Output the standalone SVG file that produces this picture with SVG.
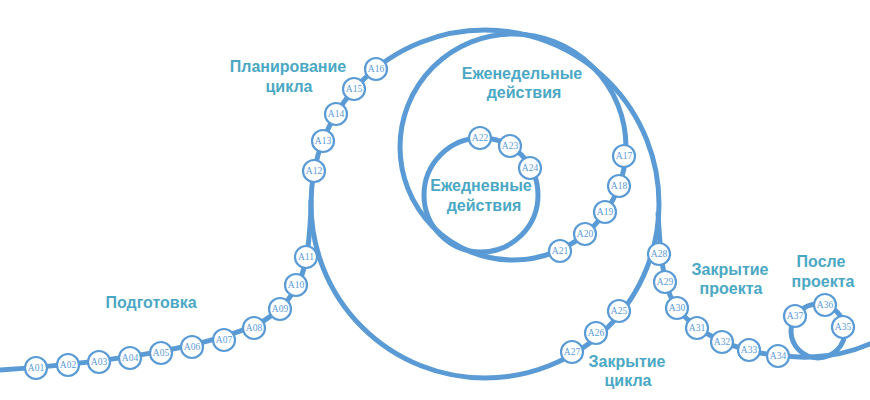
<svg xmlns="http://www.w3.org/2000/svg" width="870" height="400" viewBox="0 0 870 400">
<style>
.ln{fill:none;stroke:#5B9BD5;stroke-width:5}
.node circle{fill:#fff;stroke:#5B9BD5;stroke-width:2.2}
.node text{font-family:"Liberation Serif",serif;font-size:9.5px;fill:#5B9BD5;text-anchor:middle}
.lbl{font-family:"Liberation Sans",Arial,sans-serif;font-size:16px;font-weight:bold;fill:#4BA8C4;text-anchor:middle}
</style>
<rect width="870" height="400" fill="#fff"/>
<g id="connectors">
<circle class="ln" cx="485" cy="204" r="174"/>
<circle class="ln" cx="513" cy="147" r="113"/>
<circle class="ln" cx="481" cy="195" r="57"/>
<circle class="ln" cx="818" cy="331" r="27"/>
<path class="ln" d="M0,370 C120,362 220,345 265,320 C290,305 303,280 307,255 C309,240 311,222 311,200"/>
<path class="ln" d="M658,212 C660,250 662,270 668,290 C680,325 720,345 760,353 C790,358 830,362 872,343"/>
</g>
<g id="A01" class="node" transform="translate(36,368)"><circle r="11"/><text y="3.3">A01</text></g>
<g id="A02" class="node" transform="translate(68,365)"><circle r="11"/><text y="3.3">A02</text></g>
<g id="A03" class="node" transform="translate(99,362)"><circle r="11"/><text y="3.3">A03</text></g>
<g id="A04" class="node" transform="translate(130,358)"><circle r="11"/><text y="3.3">A04</text></g>
<g id="A05" class="node" transform="translate(161,353)"><circle r="11"/><text y="3.3">A05</text></g>
<g id="A06" class="node" transform="translate(192,347)"><circle r="11"/><text y="3.3">A06</text></g>
<g id="A07" class="node" transform="translate(224,340)"><circle r="11"/><text y="3.3">A07</text></g>
<g id="A08" class="node" transform="translate(254,328)"><circle r="11"/><text y="3.3">A08</text></g>
<g id="A09" class="node" transform="translate(280,309)"><circle r="11"/><text y="3.3">A09</text></g>
<g id="A10" class="node" transform="translate(296,285)"><circle r="11"/><text y="3.3">A10</text></g>
<g id="A11" class="node" transform="translate(306,257)"><circle r="11"/><text y="3.3">A11</text></g>
<g id="A12" class="node" transform="translate(314,171)"><circle r="11"/><text y="3.3">A12</text></g>
<g id="A13" class="node" transform="translate(323,141)"><circle r="11"/><text y="3.3">A13</text></g>
<g id="A14" class="node" transform="translate(336,114)"><circle r="11"/><text y="3.3">A14</text></g>
<g id="A15" class="node" transform="translate(354,89)"><circle r="11"/><text y="3.3">A15</text></g>
<g id="A16" class="node" transform="translate(376,69)"><circle r="11"/><text y="3.3">A16</text></g>
<g id="A17" class="node" transform="translate(624,156)"><circle r="11"/><text y="3.3">A17</text></g>
<g id="A18" class="node" transform="translate(619,186)"><circle r="11"/><text y="3.3">A18</text></g>
<g id="A19" class="node" transform="translate(605,212)"><circle r="11"/><text y="3.3">A19</text></g>
<g id="A20" class="node" transform="translate(585,234)"><circle r="11"/><text y="3.3">A20</text></g>
<g id="A21" class="node" transform="translate(560,251)"><circle r="11"/><text y="3.3">A21</text></g>
<g id="A22" class="node" transform="translate(480,138)"><circle r="11"/><text y="3.3">A22</text></g>
<g id="A23" class="node" transform="translate(510,146)"><circle r="11"/><text y="3.3">A23</text></g>
<g id="A24" class="node" transform="translate(530,168)"><circle r="11"/><text y="3.3">A24</text></g>
<g id="A25" class="node" transform="translate(619,311)"><circle r="11"/><text y="3.3">A25</text></g>
<g id="A26" class="node" transform="translate(596,333)"><circle r="11"/><text y="3.3">A26</text></g>
<g id="A27" class="node" transform="translate(572,352)"><circle r="11"/><text y="3.3">A27</text></g>
<g id="A28" class="node" transform="translate(659,254)"><circle r="11"/><text y="3.3">A28</text></g>
<g id="A29" class="node" transform="translate(665,282)"><circle r="11"/><text y="3.3">A29</text></g>
<g id="A30" class="node" transform="translate(677,308)"><circle r="11"/><text y="3.3">A30</text></g>
<g id="A31" class="node" transform="translate(697,328)"><circle r="11"/><text y="3.3">A31</text></g>
<g id="A32" class="node" transform="translate(722,342)"><circle r="11"/><text y="3.3">A32</text></g>
<g id="A33" class="node" transform="translate(749,350)"><circle r="11"/><text y="3.3">A33</text></g>
<g id="A34" class="node" transform="translate(778,356)"><circle r="11"/><text y="3.3">A34</text></g>
<g id="A35" class="node" transform="translate(843,327)"><circle r="11"/><text y="3.3">A35</text></g>
<g id="A36" class="node" transform="translate(825,305)"><circle r="11"/><text y="3.3">A36</text></g>
<g id="A37" class="node" transform="translate(795,316)"><circle r="11"/><text y="3.3">A37</text></g>
<g id="labels">
<text class="lbl" x="151" y="308">Подготовка</text>
<text class="lbl" x="288" y="72">Планирование</text>
<text class="lbl" x="289" y="92">цикла</text>
<text class="lbl" x="522" y="79">Еженедельные</text>
<text class="lbl" x="524" y="98">действия</text>
<text class="lbl" x="481" y="191">Ежедневные</text>
<text class="lbl" x="484" y="211">действия</text>
<text class="lbl" x="627" y="367">Закрытие</text>
<text class="lbl" x="628" y="386">цикла</text>
<text class="lbl" x="730" y="275">Закрытие</text>
<text class="lbl" x="731" y="294">проекта</text>
<text class="lbl" x="821" y="267">После</text>
<text class="lbl" x="823" y="287">проекта</text>
</g>
</svg>
